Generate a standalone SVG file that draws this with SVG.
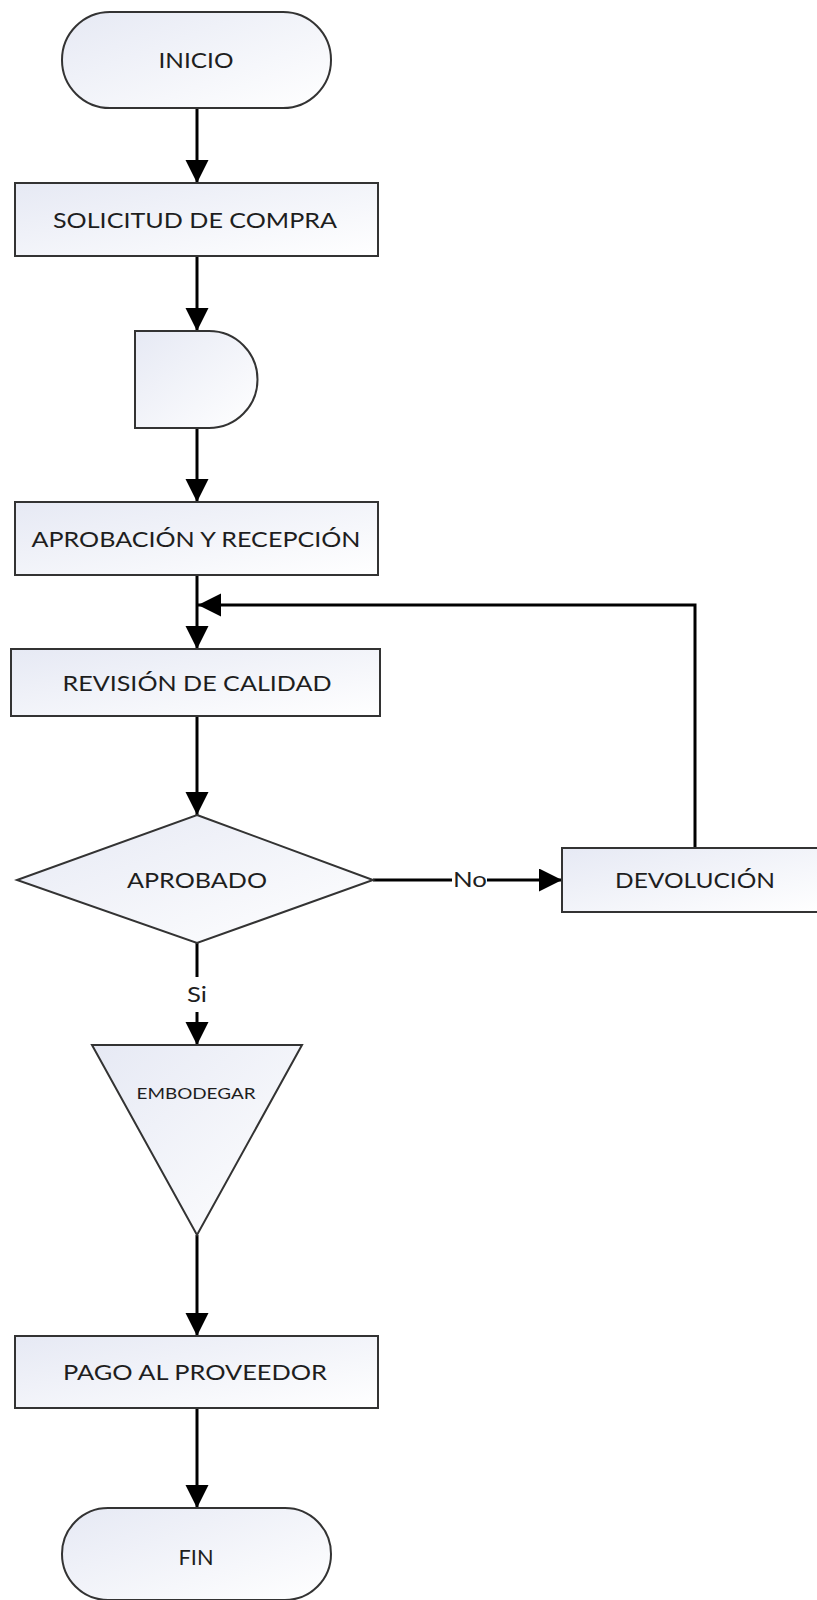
<svg xmlns="http://www.w3.org/2000/svg" width="817" height="1600" viewBox="0 0 817 1600">
  <defs>
    <linearGradient id="fillGrad" x1="0" y1="0" x2="1" y2="1">
      <stop offset="0" stop-color="#e6e9f4"/>
      <stop offset="1" stop-color="#ffffff"/>
    </linearGradient>
    <marker id="arrow" markerUnits="userSpaceOnUse" markerWidth="24" markerHeight="24" refX="23" refY="11.5" orient="auto">
      <path d="M0,0 L23,11.5 L0,23 Z" fill="#000"/>
    </marker>
    <style>
      .shape { fill: url(#fillGrad); stroke: #333333; stroke-width: 2; }
      .conn { fill: none; stroke: #000; stroke-width: 3; }
      .lbl { font-family: "Lato", "Open Sans", "Liberation Sans", sans-serif; font-size: 22px; fill: #1e1e1e; text-anchor: middle; }
      .small { font-size: 16px; }
    </style>
  </defs>

  <rect width="817" height="1600" fill="#ffffff"/>

  <!-- connectors -->
  <g id="connectors">
    <line class="conn" x1="197" y1="108" x2="197" y2="183" marker-end="url(#arrow)"/>
    <line class="conn" x1="197" y1="256" x2="197" y2="331" marker-end="url(#arrow)"/>
    <line class="conn" x1="197" y1="428" x2="197" y2="502" marker-end="url(#arrow)"/>
    <line class="conn" x1="197" y1="575" x2="197" y2="649" marker-end="url(#arrow)"/>
    <line class="conn" x1="197" y1="716" x2="197" y2="815" marker-end="url(#arrow)"/>
    <!-- No branch -->
    <line class="conn" x1="373" y1="880" x2="452" y2="880"/>
    <line class="conn" x1="487" y1="880" x2="562" y2="880" marker-end="url(#arrow)"/>
    <!-- return loop -->
    <polyline class="conn" points="695,848 695,605 198,605" marker-end="url(#arrow)"/>
    <!-- Si branch -->
    <line class="conn" x1="197" y1="943" x2="197" y2="977"/>
    <line class="conn" x1="197" y1="1012" x2="197" y2="1045" marker-end="url(#arrow)"/>
    <line class="conn" x1="197" y1="1235" x2="197" y2="1336" marker-end="url(#arrow)"/>
    <line class="conn" x1="197" y1="1408" x2="197" y2="1508" marker-end="url(#arrow)"/>
    <text class="lbl" x="470" y="887" textLength="34" lengthAdjust="spacingAndGlyphs">No</text>
    <text class="lbl" x="197" y="1002" textLength="20" lengthAdjust="spacingAndGlyphs">Si</text>
  </g>

  <g id="inicio">
    <rect class="shape" x="62" y="12" width="269" height="96" rx="48" ry="48"/>
    <text class="lbl" x="196" y="68" textLength="75" lengthAdjust="spacingAndGlyphs">INICIO</text>
  </g>

  <g id="solicitud">
    <rect class="shape" x="15" y="183" width="363" height="73"/>
    <text class="lbl" x="195" y="228" textLength="284" lengthAdjust="spacingAndGlyphs">SOLICITUD DE COMPRA</text>
  </g>

  <g id="espera">
    <path class="shape" d="M135,331 L209,331 A48.5,48.5 0 0 1 209,428 L135,428 Z"/>
  </g>

  <g id="aprobacion">
    <rect class="shape" x="15" y="502" width="363" height="73"/>
    <text class="lbl" x="196" y="547" textLength="329" lengthAdjust="spacingAndGlyphs">APROBACIÓN Y RECEPCIÓN</text>
  </g>

  <g id="revision">
    <rect class="shape" x="11" y="649" width="369" height="67"/>
    <text class="lbl" x="197" y="691" textLength="269" lengthAdjust="spacingAndGlyphs">REVISIÓN DE CALIDAD</text>
  </g>

  <g id="aprobado">
    <polygon class="shape" points="197,815 373,880 197,943 17,880"/>
    <text class="lbl" x="197" y="888" textLength="140" lengthAdjust="spacingAndGlyphs">APROBADO</text>
  </g>

  <g id="devolucion">
    <rect class="shape" x="562" y="848" width="264" height="64"/>
    <text class="lbl" x="695" y="888" textLength="160" lengthAdjust="spacingAndGlyphs">DEVOLUCIÓN</text>
  </g>

  <g id="embodegar">
    <polygon class="shape" points="92,1045 302,1045 197,1235"/>
    <text class="lbl small" x="196" y="1099" textLength="119" lengthAdjust="spacingAndGlyphs">EMBODEGAR</text>
  </g>

  <g id="pago">
    <rect class="shape" x="15" y="1336" width="363" height="72"/>
    <text class="lbl" x="195" y="1380" textLength="264" lengthAdjust="spacingAndGlyphs">PAGO AL PROVEEDOR</text>
  </g>

  <g id="fin">
    <rect class="shape" x="62" y="1508" width="269" height="92" rx="46" ry="46"/>
    <text class="lbl" x="196" y="1565" textLength="35" lengthAdjust="spacingAndGlyphs">FIN</text>
  </g>
</svg>
